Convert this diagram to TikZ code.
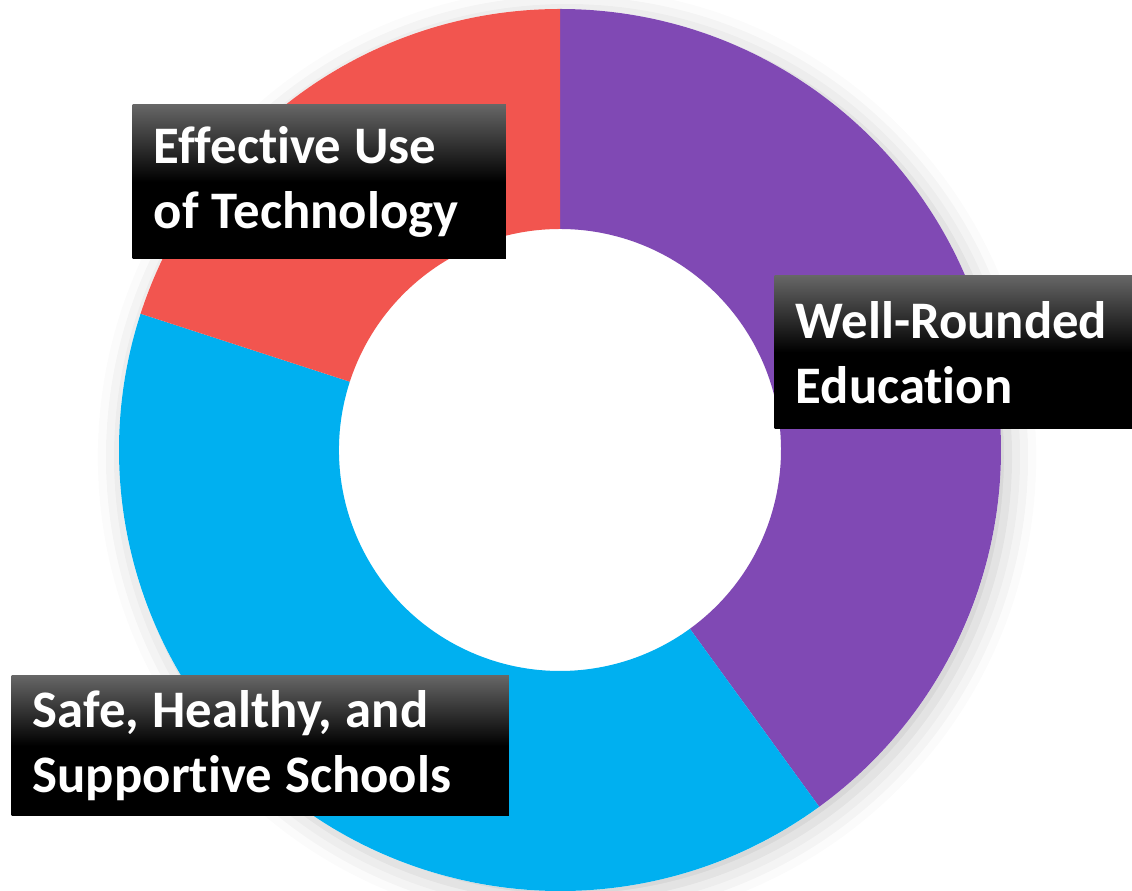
\documentclass[tikz,border=0pt]{standalone}
\usepackage{fontspec}
\setmainfont{Carlito}[Ligatures=NoCommon]
\usetikzlibrary{shadows.blur}
\definecolor{wellpurple}{HTML}{8049B4}
\definecolor{techred}{HTML}{F2554F}
\definecolor{safeblue}{HTML}{00B0F0}

\begin{document}
\begin{tikzpicture}[x=0.01cm,y=0.01cm,
    labelbox/.style={anchor=north west, shading=axis, top color=black!60,
      bottom color=black, middle color=black, text=white, align=left,
      font=\fontsize{15}{18.5}\selectfont\bfseries,
      execute at begin node={\spaceskip=0.25em\relax},
      inner xsep=0.21cm, inner ysep=0pt}]
\useasboundingbox (0,0) rectangle (1132,891);
\coordinate (c) at (560,441);
% shadow under the ring
\fill[white, blur shadow={shadow xshift=2pt, shadow yshift=-2pt,
    shadow blur radius=8pt, shadow opacity=22}] (c) circle[radius=441];
% ring segments
\fill[wellpurple] ([shift={(90:441)}]c) arc[start angle=90, end angle=-54, radius=441]
    -- ([shift={(-54:221)}]c) arc[start angle=-54, end angle=90, radius=221] -- cycle;
\fill[safeblue] ([shift={(-54:441)}]c) arc[start angle=-54, end angle=-198, radius=441]
    -- ([shift={(-198:221)}]c) arc[start angle=-198, end angle=-54, radius=221] -- cycle;
\fill[techred] ([shift={(162:441)}]c) arc[start angle=162, end angle=90, radius=441]
    -- ([shift={(90:221)}]c) arc[start angle=90, end angle=162, radius=221] -- cycle;
% labels
\node[labelbox, text width=3.31cm, minimum height=1.54cm] (tech) at (132,787)
    {Effective Use\\of Technology};
\node[labelbox, text width=3.6cm, minimum height=1.53cm] (well) at (774,616)
    {Well-Rounded\\Education};
\node[labelbox, text width=4.55cm, minimum height=1.40cm] (safe) at (11,216)
    {Safe, Healthy, and\\Supportive Schools};
\end{tikzpicture}
\end{document}
